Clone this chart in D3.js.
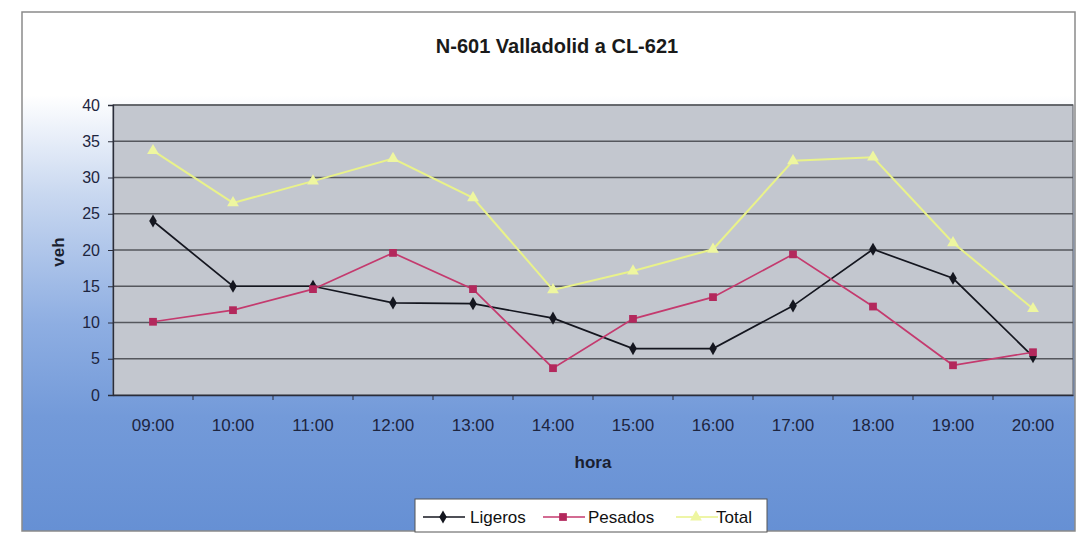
<!DOCTYPE html>
<html><head><meta charset="utf-8">
<script src="https://cdn.jsdelivr.net/npm/d3@7"></script>
<style>html,body{margin:0;padding:0;background:#fff;}svg{display:block;font-family:"Liberation Sans",Arial,sans-serif;}</style>
</head><body>
<svg id="c" width="1078" height="536"></svg>
<script>
const categories = ["09:00","10:00","11:00","12:00","13:00","14:00","15:00","16:00","17:00","18:00","19:00","20:00"];
const ligeros = [24.0,15.0,15.0,12.7,12.6,10.6,6.4,6.4,12.3,20.1,16.1,5.3];
const pesados = [10.1,11.7,14.6,19.6,14.6,3.7,10.5,13.5,19.4,12.2,4.1,5.9];
const total   = [33.7,26.5,29.5,32.6,27.2,14.5,17.1,20.1,32.3,32.8,21.0,11.9];
const yTicks = [0,5,10,15,20,25,30,35,40];
const seriesNames = ["Ligeros","Pesados","Total"];
const title = "N-601 Valladolid a CL-621";

const svg = d3.select("#c");
const defs = svg.append("defs");
const g1 = defs.append("linearGradient").attr("id","bg").attr("x1",0).attr("y1",0).attr("x2",0).attr("y2",1);
[[0,"#ffffff"],[0.16,"#ffffff"],[0.35,"#c9d8f0"],[0.6,"#8eaee2"],[0.78,"#739ad9"],[1,"#6690d4"]].forEach(s=>g1.append("stop").attr("offset",s[0]).attr("stop-color",s[1]));

// outer frame
svg.append("rect").attr("x",22).attr("y",12).attr("width",1053).attr("height",519)
  .attr("fill","url(#bg)").attr("stroke","#8a8a8a").attr("stroke-width",1.5);

const m = {l:113, r:1073, t:105, b:395};
const x = d3.scaleBand().domain(categories).range([m.l,m.r]);
const y = d3.scaleLinear().domain([0,40]).range([m.b,m.t]);

// plot area
svg.append("rect").attr("x",m.l).attr("y",m.t).attr("width",m.r-m.l).attr("height",m.b-m.t)
  .attr("fill","#c3c7cf").attr("stroke","#6d6f75").attr("stroke-width",1.2);

// gridlines
svg.append("g").selectAll("line").data(yTicks.filter(d=>d>0)).join("line")
  .attr("x1",m.l).attr("x2",m.r).attr("y1",d=>y(d)).attr("y2",d=>y(d))
  .attr("stroke","#55575d").attr("stroke-width",1.4);

// title
svg.append("text").attr("x",557).attr("y",53).attr("text-anchor","middle")
  .attr("font-size",20).attr("font-weight","bold").attr("fill","#1a1a1a").text(title);

// y axis
const ya = svg.append("g").attr("transform",`translate(${m.l},0)`)
  .call(d3.axisLeft(y).tickValues(yTicks).tickSize(5).tickPadding(8));
ya.select(".domain").attr("stroke","#2a2d3a").attr("stroke-width",1.3);
ya.selectAll(".tick line").attr("stroke","#2a2d3a");
ya.selectAll("text").attr("font-size",16).attr("fill","#1d2540").attr("font-family","Liberation Sans, Arial, sans-serif");

// x axis
const xa = svg.append("g").attr("transform",`translate(0,${m.b})`)
  .call(d3.axisBottom(x).tickSize(0).tickPadding(24));
xa.select(".domain").attr("stroke","#2a2d3a").attr("stroke-width",1.5);
xa.selectAll("text").attr("font-size",17).attr("fill","#1d2540").attr("font-family","Liberation Sans, Arial, sans-serif");
// boundary tick marks between categories
svg.append("g").selectAll("line").data(categories.slice(1)).join("line")
  .attr("x1",d=>x(d)).attr("x2",d=>x(d)).attr("y1",m.b).attr("y2",m.b+5)
  .attr("stroke","#2a2d3a");

// axis titles
svg.append("text").attr("transform",`translate(64,252) rotate(-90)`).attr("text-anchor","middle")
  .attr("font-size",17).attr("font-weight","bold").attr("fill","#1a1f30").text("veh");
svg.append("text").attr("x",593).attr("y",468).attr("text-anchor","middle")
  .attr("font-size",17).attr("font-weight","bold").attr("fill","#1a1f30").text("hora");

const cx = d => x(d) + x.bandwidth()/2;
const styles = [
  {name:"Ligeros", data:ligeros, line:"#14161f", fill:"#14161f", sym:d3.symbolDiamond, size:50},
  {name:"Pesados", data:pesados, line:"#c43a6e", fill:"#b3285c", sym:d3.symbolSquare, size:60},
  {name:"Total", data:total, line:"#e9f28a", fill:"#eef6a0", sym:d3.symbolTriangle, size:60}
];
const lineGen = d3.line().x((d,i)=>cx(categories[i])).y(d=>y(d));
styles.forEach(s=>{
  svg.append("path").datum(s.data).attr("d",lineGen).attr("fill","none")
    .attr("stroke",s.line).attr("stroke-width",s.name==="Total"?2:1.7);
  svg.append("g").selectAll("path").data(s.data).join("path")
    .attr("transform",(d,i)=>`translate(${cx(categories[i])},${y(d)})`)
    .attr("d",d3.symbol().type(s.sym).size(s.size)).attr("fill",s.fill);
});

// legend
const lg = svg.append("g");
lg.append("rect").attr("x",415).attr("y",499).attr("width",352).attr("height",33)
  .attr("fill","#ffffff").attr("stroke","#555").attr("stroke-width",1);
const lx = [423, 543, 676];
const tx = [470, 588, 716];
styles.forEach((s,i)=>{
  const gx = lx[i];
  lg.append("line").attr("x1",gx).attr("x2",gx+42).attr("y1",517).attr("y2",517)
    .attr("stroke",s.line).attr("stroke-width",1.7);
  lg.append("path").attr("transform",`translate(${gx+20},517)`)
    .attr("d",d3.symbol().type(s.sym).size(s.size)).attr("fill",s.fill);
  lg.append("text").attr("x",tx[i]).attr("y",523).attr("font-size",17).attr("fill","#111").text(s.name);
});
</script>
</body></html>
